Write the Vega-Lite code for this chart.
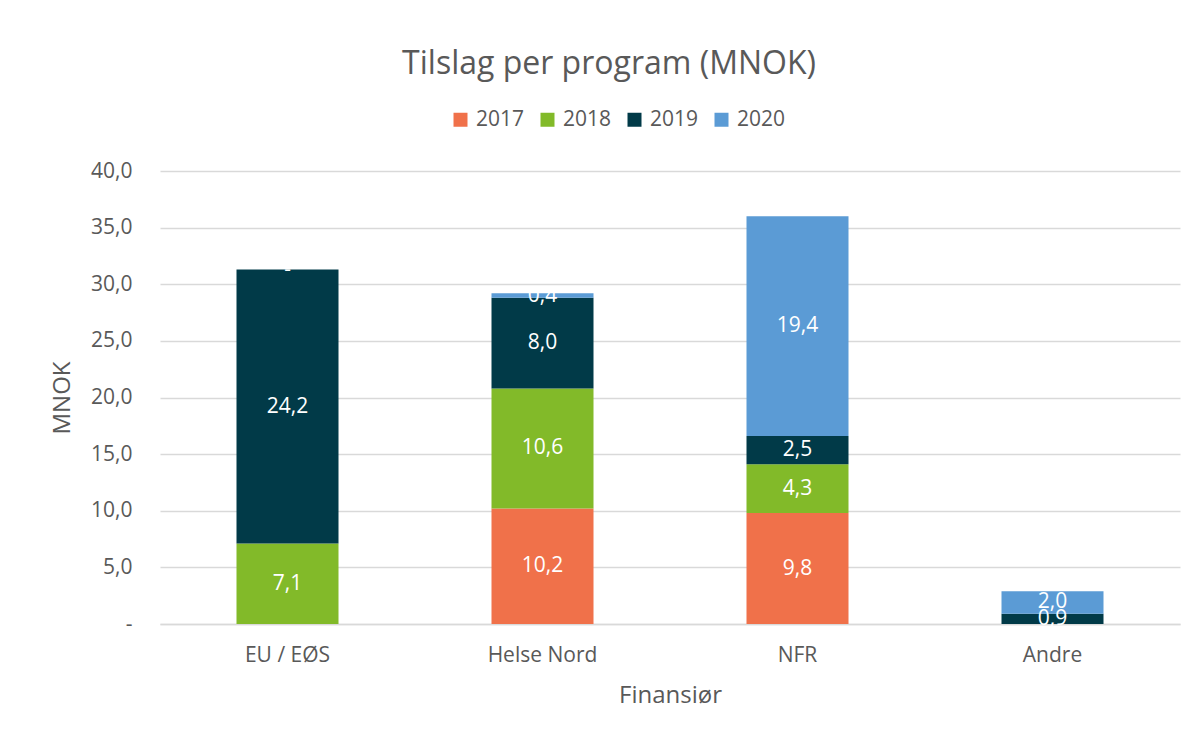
{
  "$schema": "https://vega.github.io/schema/vega-lite/v6.json",
  "width": 1020,
  "height": 453,
  "autosize": {"type": "none"},
  "padding": {"left": 160, "top": 171, "right": 16, "bottom": 109},
  "background": "white",
  "title": {
    "text": "Tilslag per program (MNOK)",
    "font": "Open Sans",
    "fontSize": 32,
    "fontWeight": "normal",
    "color": "#595959",
    "anchor": "middle",
    "dx": -61,
    "offset": 28
  },
  "data": {
    "values": [
      {"finansior": "EU / EØS", "year": "2018", "value": 7.1},
      {"finansior": "EU / EØS", "year": "2019", "value": 24.2},
      {"finansior": "EU / EØS", "year": "2020", "value": 0},
      {"finansior": "Helse Nord", "year": "2017", "value": 10.2},
      {"finansior": "Helse Nord", "year": "2018", "value": 10.6},
      {"finansior": "Helse Nord", "year": "2019", "value": 8.0},
      {"finansior": "Helse Nord", "year": "2020", "value": 0.4},
      {"finansior": "NFR", "year": "2017", "value": 9.8},
      {"finansior": "NFR", "year": "2018", "value": 4.3},
      {"finansior": "NFR", "year": "2019", "value": 2.5},
      {"finansior": "NFR", "year": "2020", "value": 19.4},
      {"finansior": "Andre", "year": "2019", "value": 0.9},
      {"finansior": "Andre", "year": "2020", "value": 2.0}
    ]
  },
  "transform": [
    {"stack": "value", "groupby": ["finansior"], "sort": [{"field": "year", "order": "ascending"}], "as": ["v0", "v1"]},
    {"calculate": "(datum.v0 + datum.v1) / 2", "as": "mid"},
    {"calculate": "datum.value == 0 ? '-' : replace(format(datum.value, '.1f'), '.', ',')", "as": "lbl"}
  ],
  "encoding": {
    "x": {
      "field": "finansior",
      "type": "nominal",
      "sort": ["EU / EØS", "Helse Nord", "NFR", "Andre"],
      "scale": {"paddingInner": 0.6, "paddingOuter": 0.3},
      "axis": {
        "title": "Finansiør",
        "labelAngle": 0,
        "labelFont": "Open Sans",
        "labelFontSize": 21,
        "labelColor": "#595959",
        "labelPadding": 20,
        "titleFont": "Open Sans",
        "titleFontSize": 24,
        "titleFontWeight": "normal",
        "titleColor": "#595959",
        "titlePadding": 18,
        "ticks": false,
        "domainColor": "#d9d9d9",
        "domainWidth": 1.5,
        "grid": false
      }
    }
  },
  "layer": [
    {
      "mark": {"type": "bar"},
      "encoding": {
        "y": {
          "field": "v0",
          "type": "quantitative",
          "scale": {"domain": [0, 40]},
          "axis": {
            "title": "MNOK",
            "values": [0, 5, 10, 15, 20, 25, 30, 35, 40],
            "labelExpr": "datum.value == 0 ? '-' : replace(format(datum.value, '.1f'), '.', ',')",
            "labelFont": "Open Sans",
            "labelFontSize": 21,
            "labelColor": "#595959",
            "labelPadding": 28,
            "titleFont": "Open Sans",
            "titleFontSize": 24,
            "titleFontWeight": "normal",
            "titleColor": "#595959",
            "titlePadding": 16,
            "ticks": false,
            "domain": false,
            "gridColor": "#d9d9d9",
            "gridWidth": 1.5
          }
        },
        "y2": {"field": "v1"},
        "color": {
          "field": "year",
          "type": "nominal",
          "scale": {
            "domain": ["2017", "2018", "2019", "2020"],
            "range": ["#F0714A", "#82BA29", "#013A48", "#5B9BD5"]
          },
          "legend": {
            "title": null,
            "orient": "none",
            "direction": "horizontal",
            "columns": 4,
            "legendX": 290,
            "legendY": -62,
            "symbolType": "square",
            "symbolSize": 196,
            "symbolStrokeWidth": 0,
            "symbolOpacity": 1,
            "labelFont": "Open Sans",
            "labelFontSize": 21,
            "labelColor": "#595959",
            "labelOffset": 5,
            "columnPadding": 12
          }
        }
      }
    },
    {
      "mark": {"type": "text", "color": "white", "font": "Open Sans", "fontSize": 21, "baseline": "middle", "align": "center"},
      "encoding": {
        "y": {"field": "mid", "type": "quantitative"},
        "text": {"field": "lbl"}
      }
    }
  ],
  "config": {
    "view": {"stroke": null}
  }
}
